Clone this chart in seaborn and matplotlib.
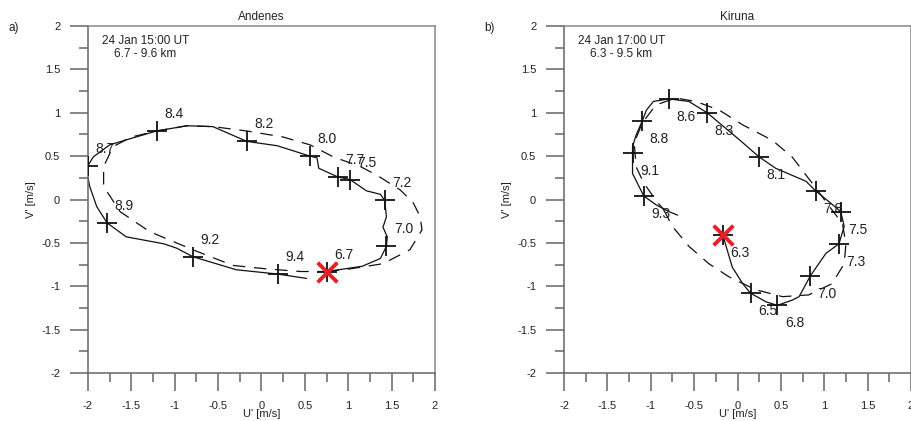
import matplotlib
matplotlib.use("Agg")
import matplotlib.pyplot as plt
import seaborn as sns
from matplotlib.ticker import MultipleLocator

# --- data ---

# Andenes: observed hodograph (solid line)
and_line_u = [0.75, 1.16, 1.37, 1.44, 1.45, 1.40, 1.44, 1.42, 1.37, 1.21, 1.02, 0.88, 0.66, 0.64,
              0.56, 0.18, -0.17, -0.56, -0.86, -1.21, -1.55, -1.75, -1.94, -2.0, -2.01, -1.98,
              -1.90, -1.78, -1.56, -1.13, -0.98, -0.79, -0.29, 0.19, 0.52]
and_line_v = [-0.83, -0.77, -0.68, -0.54, -0.43, -0.32, -0.20, -0.01, 0.06, 0.10, 0.23, 0.26, 0.36, 0.48,
              0.50, 0.62, 0.67, 0.84, 0.85, 0.79, 0.69, 0.63, 0.49, 0.39, 0.30, 0.15,
              -0.08, -0.27, -0.43, -0.51, -0.56, -0.66, -0.81, -0.86, -0.91]
# Andenes: fitted ellipse (dashed line)
and_fit_u = [0.75, 1.02, 1.40, 1.71, 1.85, 1.83, 1.75, 1.60, 1.33, 1.14, 0.83, 0.56, 0.25, -0.17,
             -0.56, -0.86, -1.21, -1.50, -1.71, -1.82, -1.82, -1.63, -1.29, -0.79, -0.33, 0.06, 0.45, 0.75]
and_fit_v = [-0.83, -0.80, -0.74, -0.58, -0.35, -0.20, -0.04, 0.11, 0.28, 0.38, 0.49, 0.63, 0.72, 0.79,
             0.84, 0.85, 0.79, 0.72, 0.61, 0.38, 0.15, -0.14, -0.37, -0.58, -0.76, -0.80, -0.83, -0.83]
# Andenes: altitude markers (km)
and_alt = ["6.7", "7.0", "7.2", "7.5", "7.7", "8.0", "8.2", "8.4", "8.7", "8.9", "9.2", "9.4"]
and_u = [0.75, 1.44, 1.42, 1.02, 0.88, 0.56, -0.17, -1.21, -2.0, -1.78, -0.79, 0.19]
and_v = [-0.83, -0.54, -0.01, 0.23, 0.26, 0.50, 0.67, 0.79, 0.39, -0.27, -0.66, -0.86]

# Kiruna: observed hodograph (solid line)
kir_line_u = [-0.17, -0.14, -0.06, 0.06, 0.15, 0.33, 0.46, 0.63, 0.71, 0.84, 1.02, 1.17, 1.23, 1.19,
              1.06, 0.90, 0.79, 0.44, 0.25, 0.02, -0.35, -0.56, -0.79, -0.97, -1.05, -1.10, -1.17,
              -1.21, -1.21, -1.21, -1.08, -0.94, -0.79, -0.69]
kir_line_v = [-0.41, -0.51, -0.78, -0.97, -1.08, -1.18, -1.22, -1.16, -1.12, -0.88, -0.62, -0.51, -0.31, -0.14,
              -0.03, 0.10, 0.21, 0.36, 0.49, 0.69, 1.00, 1.13, 1.16, 1.13, 1.03, 0.90, 0.74,
              0.61, 0.54, 0.30, 0.04, -0.06, -0.14, -0.18]
# Kiruna: fitted ellipse (dashed line)
kir_fit_u = [-0.85, -0.75, -0.56, -0.33, -0.10, 0.21, 0.52, 0.82, 1.09, 1.23, 1.25, 1.21, 1.06, 0.86,
             0.63, 0.44, 0.33, 0.06, -0.21, -0.48, -0.71, -0.94, -1.10, -1.19, -1.17, -1.08, -0.94, -0.85]
kir_fit_v = [-0.12, -0.31, -0.54, -0.74, -0.89, -1.04, -1.12, -1.10, -0.97, -0.74, -0.51, -0.28, -0.08, 0.19,
             0.49, 0.65, 0.72, 0.86, 1.03, 1.13, 1.17, 1.09, 0.88, 0.65, 0.38, 0.19, -0.01, -0.12]
# Kiruna: altitude markers (km)
kir_alt = ["6.3", "6.5", "6.8", "7.0", "7.3", "7.5", "7.8", "8.1", "8.3", "8.6", "8.8", "9.1", "9.3"]
kir_u = [-0.17, 0.15, 0.46, 0.84, 1.17, 1.19, 0.90, 0.25, -0.35, -0.79, -1.10, -1.21, -1.08]
kir_v = [-0.41, -1.08, -1.22, -0.88, -0.51, -0.14, 0.10, 0.49, 1.00, 1.16, 0.90, 0.54, 0.04]

ticks = [-2, -1.5, -1, -0.5, 0, 0.5, 1, 1.5, 2]
tick_labels = ["-2", "-1.5", "-1", "-0.5", "0", "0.5", "1", "1.5", "2"]

sns.set_theme(style="ticks")
plt.rcParams["font.family"] = ["Liberation Sans", "DejaVu Sans"]
plt.rcParams["axes.unicode_minus"] = False

fig = plt.figure(figsize=(9.12, 4.21), dpi=100)

panels = [
    dict(left=88 / 912, title="Andenes", tag="a)", info="24 Jan 15:00 UT\n6.7 - 9.6 km",
         line=(and_line_u, and_line_v), fit=(and_fit_u, and_fit_v),
         mu=and_u, mv=and_v, alt=and_alt, off=(17, 17)),
    dict(left=564 / 912, title="Kiruna", tag="b)", info="24 Jan 17:00 UT\n6.3 - 9.5 km",
         line=(kir_line_u, kir_line_v), fit=(kir_fit_u, kir_fit_v),
         mu=kir_u, mv=kir_v, alt=kir_alt, off=(17, -18)),
]

text_col = "#222222"
spine_col = "#666666"

for p in panels:
    ax = fig.add_axes([p["left"], 48 / 421, 347 / 912, 347 / 421])

    sns.lineplot(x=p["fit"][0], y=p["fit"][1], sort=False, estimator=None, ax=ax,
                 color="#111111", lw=0.9, linestyle=(0, (10, 7)))
    sns.lineplot(x=p["line"][0], y=p["line"][1], sort=False, estimator=None, ax=ax,
                 color="#111111", lw=0.9)
    sns.scatterplot(x=p["mu"], y=p["mv"], marker="+", s=210, color="#111111",
                    linewidth=1.3, ax=ax, zorder=4)
    # start point
    sns.scatterplot(x=p["mu"][:1], y=p["mv"][:1], marker="x", s=200, color="#e8202a",
                    linewidth=2.8, ax=ax, zorder=5)

    for lab, u, v in zip(p["alt"], p["mu"], p["mv"]):
        ax.annotate(lab, (u, v), xytext=p["off"], textcoords="offset pixels",
                    ha="center", va="center", fontsize=10, color=text_col)

    ax.text(-1.34, 1.9, p["info"], ha="center", va="top", multialignment="center",
            fontsize=8.5, color=text_col, linespacing=1.15)

    ax.set_xlim(-2, 2)
    ax.set_ylim(-2, 2)
    ax.set_xticks(ticks)
    ax.set_xticklabels(tick_labels)
    ax.set_yticks(ticks)
    ax.set_yticklabels(tick_labels)
    ax.xaxis.set_minor_locator(MultipleLocator(0.25))
    ax.yaxis.set_minor_locator(MultipleLocator(0.25))
    ax.tick_params(which="major", direction="out", length=13, width=1.1, color=spine_col,
                   labelsize=8, labelcolor=text_col, pad=7)
    ax.tick_params(which="minor", direction="out", length=6.5, width=1.1, color=spine_col)
    for s in ax.spines.values():
        s.set_color(spine_col)
        s.set_linewidth(1.1)
    ax.spines["top"].set_color("#888888")
    ax.spines["right"].set_color("#888888")

    ax.set_xlabel("U' [m/s]", fontsize=8, color=text_col, labelpad=-1)
    ax.set_ylabel("V' [m/s]", fontsize=8, color=text_col, labelpad=4)
    ax.set_title(p["title"], fontsize=8.5, color=text_col, pad=4)

    fig.text(p["left"] - 74 / 912, 1 - 28 / 421, p["tag"], fontsize=8.5, color=text_col,
             ha="center", va="center")

fig.savefig("out.png", dpi=100)
